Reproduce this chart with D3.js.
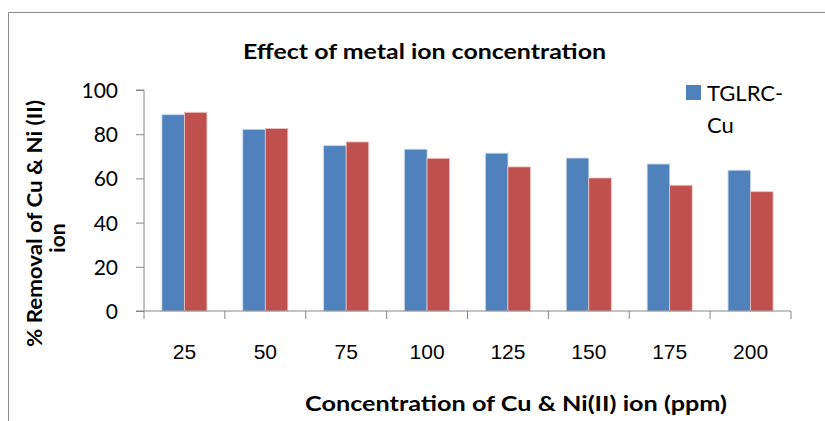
<!DOCTYPE html>
<html><head><meta charset="utf-8">
<script src="https://cdn.jsdelivr.net/npm/d3@7"></script>
<style>
body{margin:0;background:#fff;}
svg{display:block;font-family:Lato,"Open Sans",sans-serif;}
</style></head>
<body>
<svg id="c" width="825" height="421"></svg>
<script>
const categories = ["25","50","75","100","125","150","175","200"];
const cuValues = [88.8, 82.2, 74.8, 73.2, 71.4, 69.2, 66.5, 63.7];
const niValues = [89.9, 82.6, 76.5, 69.1, 65.2, 60.2, 56.9, 54.0];
const yTicks = [0,20,40,60,80,100];
const seriesNames = ["TGLRC-Cu","TGLRC-Ni"];
const colors = ["#4F81BD","#C0504D"];

const svg = d3.select("#c");
// frame
svg.append("path").attr("d","M8.5,421 V12.5 H825").attr("fill","none").attr("stroke","#8c8c8c").attr("stroke-width",1);

const x0 = 144, x1 = 791, yTop = 90, yBot = 311;
const x = d3.scaleBand().domain(categories).range([x0,x1]).paddingInner(0).paddingOuter(0);
const y = d3.scaleLinear().domain([0,100]).range([yBot,yTop]);
const barW = 22.5;

const g = svg.append("g");
categories.forEach((c,i)=>{
  const cx = x(c) + x.bandwidth()/2;
  [cuValues[i], niValues[i]].forEach((v,j)=>{
    g.append("rect")
      .attr("x", cx - barW + j*barW)
      .attr("y", y(v))
      .attr("width", barW)
      .attr("height", y(0)-y(v))
      .attr("fill", colors[j])
      .attr("stroke", j===0 ? "#c6d4e8" : "#ecc4c3")
      .attr("stroke-width", 0.8);
  });
});

// y axis
const ya = svg.append("g").attr("transform",`translate(${x0},0)`)
  .call(d3.axisLeft(y).tickValues(yTicks).tickSize(8).tickPadding(18));
ya.select(".domain").attr("stroke","#868686").attr("d",`M-8,${yTop}H0V${yBot}`);
ya.selectAll(".tick line").attr("stroke","#868686");
ya.selectAll(".tick text").attr("font-size","21px").attr("fill","#000").attr("font-family","Lato,sans-serif").attr("dy","0.36em");

// x axis
const xa = svg.append("g").attr("transform",`translate(0,${yBot})`)
  .call(d3.axisBottom(x).tickSize(0).tickPadding(33));
xa.select(".domain").attr("stroke","#868686").attr("d",`M${x0-8},0H${x1}`);
xa.selectAll(".tick text").attr("font-size","21px").attr("fill","#000");
// category boundary ticks
const bounds = categories.map(c=>x(c)).concat([x1]);
xa.selectAll(".btick").data(bounds).enter().append("line")
  .attr("x1",d=>d).attr("x2",d=>d).attr("y1",0).attr("y2",8).attr("stroke","#868686");

// title
svg.append("text").attr("x",424.5).attr("y",59).attr("text-anchor","middle")
  .attr("font-weight","bold").attr("font-size","21px")
  .attr("textLength",363).attr("lengthAdjust","spacingAndGlyphs")
  .text("Effect of metal ion concentration");

// x title
svg.append("text").attr("x",516).attr("y",411).attr("text-anchor","middle")
  .attr("font-weight","bold").attr("font-size","21px")
  .attr("textLength",422).attr("lengthAdjust","spacingAndGlyphs")
  .text("Concentration of Cu & Ni(II) ion (ppm)");

// y title
svg.append("text").attr("transform","translate(42,223.5) rotate(-90)")
  .attr("text-anchor","middle").attr("font-weight","bold").attr("font-size","21px")
  .attr("textLength",247).attr("lengthAdjust","spacingAndGlyphs")
  .text("% Removal of Cu & Ni (II)");
svg.append("text").attr("transform","translate(65,238) rotate(-90)")
  .attr("text-anchor","middle").attr("font-weight","bold").attr("font-size","21px")
  .text("ion");

// legend
svg.append("rect").attr("x",686).attr("y",85).attr("width",15).attr("height",15).attr("fill",colors[0]);
const lt = svg.append("text").attr("font-size","22px").attr("fill","#000");
lt.append("tspan").attr("x",707).attr("y",101).text("TGLRC-");
lt.append("tspan").attr("x",707).attr("y",133).text("Cu");
</script>
</body></html>
